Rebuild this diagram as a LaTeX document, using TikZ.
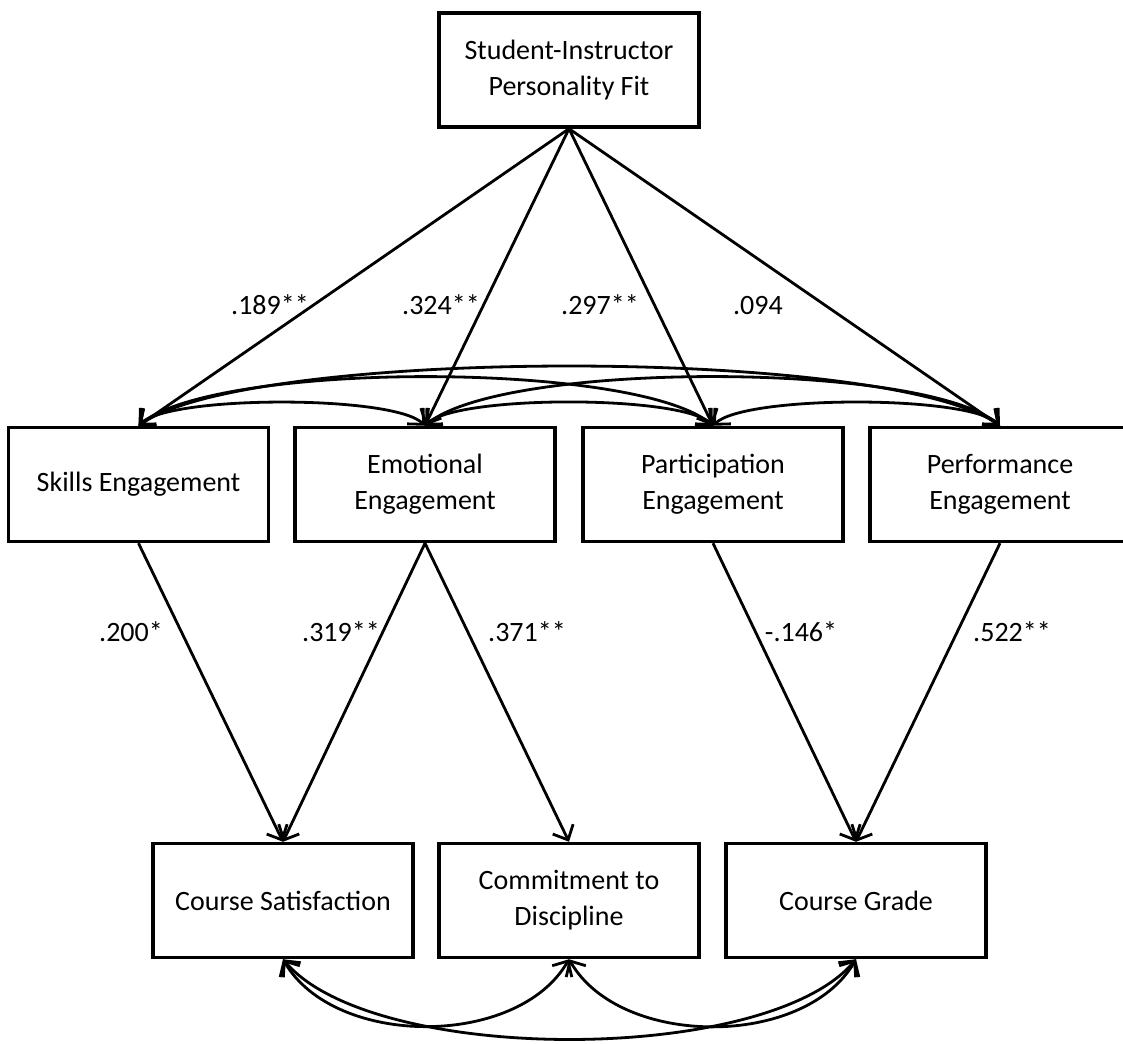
\documentclass[tikz,border=0pt]{standalone}
\usepackage{fontspec}
\setmainfont{Carlito}
\usetikzlibrary{arrows.meta}

\tikzset{
    box/.style={draw, line width=2.6pt, minimum width=195pt, minimum height=85.5pt, inner sep=0pt, align=center, font=\fontsize{21}{27}\selectfont},
    path/.style={line width=2.1pt, -{Straight Barb[length=9pt, width=17pt]}},
    cov/.style={line width=2.1pt, {Straight Barb[length=9pt, width=17pt]}-{Straight Barb[length=9pt, width=17pt]}},
    coef/.style={anchor=base, inner sep=0pt, font=\fontsize{21}{25}\selectfont},
}

\begin{document}
\begin{tikzpicture}[x=0.75pt, y=0.75pt]
        \useasboundingbox (0, 0) rectangle (1123, 1043);
        \node[box] (fit) at (569, 973) {Student-Instructor\\Personality Fit}; % predictor
        \node[box] (skills) at (138.5, 558.5) {Skills Engagement}; % mediators
        \node[box] (emo) at (425, 558.5) {Emotional\\Engagement};
        \node[box] (part) at (713, 558.5) {Participation\\Engagement};
        \node[box] (perf) at (1000, 558.5) {Performance\\Engagement};
        \node[box] (sat) at (283, 142.5) {Course Satisfaction}; % outcomes
        \node[box] (comm) at (569, 142.5) {Commitment to\\Discipline};
        \node[box] (grade) at (856, 142.5) {Course Grade};
        \draw[path] (fit.south) -- (skills.north); % fit paths
        \draw[path] (fit.south) -- (emo.north);
        \draw[path] (fit.south) -- (part.north);
        \draw[path] (fit.south) -- (perf.north);
        \node[coef] (c1) at (270, 728) {.189**};
        \node[coef] (c2) at (441, 728) {.324**};
        \node[coef] (c3) at (600, 728) {.297**};
        \node[coef] (c4) at (758, 728) {.094};
        \draw[cov] (skills.north) to[out=45, in=135, looseness=0.39] (emo.north); % mediator covariances
        \draw[cov] (emo.north) to[out=45, in=135, looseness=0.39] (part.north);
        \draw[cov] (part.north) to[out=45, in=135, looseness=0.39] (perf.north);
        \draw[cov] (skills.north) to[out=40, in=140, looseness=0.45] (part.north);
        \draw[cov] (emo.north) to[out=40, in=140, looseness=0.45] (perf.north);
        \draw[cov] (skills.north) to[out=35, in=145, looseness=0.41] (perf.north);
        \draw[path] (skills.south) -- (sat.north); % outcome paths
        \draw[path] (emo.south) -- (sat.north);
        \draw[path] (emo.south) -- (comm.north);
        \draw[path] (part.south) -- (grade.north);
        \draw[path] (perf.south) -- (grade.north);
        \node[coef] (c5) at (131, 402) {.200*};
        \node[coef] (c6) at (341, 402) {.319**};
        \node[coef] (c7) at (527, 402) {.371**};
        \node[coef] (c8) at (801, 402) {-.146*};
        \node[coef] (c9) at (1012, 402) {.522**};
        \draw[cov] (sat.south) to[out=-60, in=-120, looseness=0.92] (comm.south); % outcome covariances
        \draw[cov] (comm.south) to[out=-60, in=-120, looseness=0.92] (grade.south);
        \draw[cov] (sat.south) to[out=-50, in=-130, looseness=0.62] (grade.south);
    \end{tikzpicture}
\end{document}
